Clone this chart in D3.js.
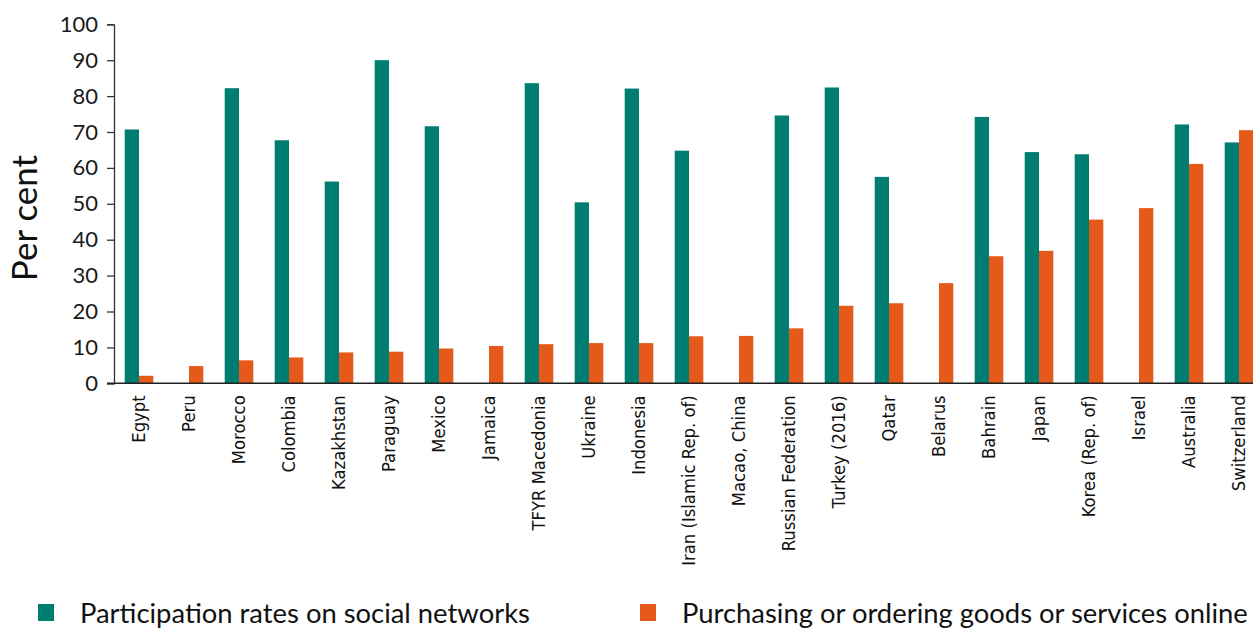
<!DOCTYPE html>
<html>
<head>
<meta charset="utf-8">
<script src="https://cdn.jsdelivr.net/npm/d3@7"></script>
<style>
  body { margin: 0; background: #fff; }
  svg { display: block; }
</style>
</head>
<body>
<div id="chart"></div>
<script>
var countries = ["Egypt", "Peru", "Morocco", "Colombia", "Kazakhstan", "Paraguay", "Mexico",
  "Jamaica", "TFYR Macedonia", "Ukraine", "Indonesia", "Iran (Islamic Rep. of)", "Macao, China",
  "Russian Federation", "Turkey (2016)", "Qatar", "Belarus", "Bahrain", "Japan", "Korea (Rep. of)",
  "Israel", "Australia", "Switzerland"];

// null = no data
var socialNetworks = [70.7, null, 82.2, 67.7, 56.2, 90.0, 71.6, null, 83.6, 50.4, 82.1, 64.8, null,
  74.6, 82.4, 57.5, null, 74.2, 64.4, 63.8, null, 72.1, 67.1];
var purchasing = [2.1, 4.8, 6.4, 7.2, 8.6, 8.8, 9.7, 10.4, 10.9, 11.2, 11.2, 13.1, 13.2,
  15.3, 21.6, 22.3, 27.9, 35.4, 36.9, 45.6, 48.8, 61.1, 70.5];

var seriesNames = ["Participation rates on social networks", "Purchasing or ordering goods or services online"];
var seriesColors = ["#007d71", "#e55a1a"];
var yTicks = [0, 10, 20, 30, 40, 50, 60, 70, 80, 90, 100];

var W = 1253, H = 628;
var mLeft = 114, mTop = 24.3, mBottom = 383.3;

var svg = d3.select("#chart").append("svg")
  .attr("width", W).attr("height", H);

var x = d3.scaleBand().domain(countries).range([mLeft, mLeft + 50 * countries.length])
  .paddingInner(0.428).paddingOuter(0.214);
var xs = d3.scaleBand().domain([0, 1]).range([0, x.bandwidth()]);
var y = d3.scaleLinear().domain([0, 100]).range([mBottom, mTop]);

// bars
var groups = svg.append("g").selectAll("g.country")
  .data(countries).enter().append("g")
  .attr("class", "country")
  .attr("transform", function(d){ return "translate(" + x(d) + ",0)"; });

groups.each(function(c, i){
  var g = d3.select(this);
  [socialNetworks[i], purchasing[i]].forEach(function(v, s){
    if (v === null) return;
    g.append("rect")
      .attr("x", xs(s))
      .attr("width", xs.bandwidth())
      .attr("y", y(v))
      .attr("height", y(0) - y(v))
      .style("fill", seriesColors[s]);
  });
});

// y axis
var yAxis = d3.axisLeft(y).tickValues(yTicks).tickSize(7).tickPadding(9);
var gy = svg.append("g").attr("transform", "translate(" + mLeft + ",0)").call(yAxis);
gy.select(".domain").attr("stroke", "#333").attr("stroke-width", 1.3);
gy.selectAll(".tick line").attr("stroke", "#333").attr("stroke-width", 1.3);
gy.selectAll(".tick text")
  .style("font-family", "Lato, sans-serif")
  .style("font-size", "22px")
  .attr("fill", "#1a1a1a");

// x axis line
svg.append("line")
  .attr("x1", mLeft - 7).attr("x2", W)
  .attr("y1", mBottom).attr("y2", mBottom)
  .attr("stroke", "#222").attr("stroke-width", 1.5);

// x labels
svg.append("g").selectAll("text")
  .data(countries).enter().append("text")
  .attr("transform", function(d){
    return "translate(" + (x(d) + x.bandwidth() / 2) + "," + (mBottom + 12) + ") rotate(-90)";
  })
  .attr("dy", "0.35em")
  .style("text-anchor", "end")
  .style("font-family", "'Liberation Sans Narrow', 'DejaVu Sans Condensed', sans-serif")
  .style("font-stretch", "condensed")
  .style("font-size", "18.3px")
  .attr("fill", "#111")
  .text(function(d){ return d; });

// y title
svg.append("text")
  .attr("transform", "translate(37,218) rotate(-90)")
  .style("text-anchor", "middle")
  .style("font-family", "Lato, sans-serif")
  .style("font-size", "35px")
  .attr("fill", "#111")
  .text("Per cent");

// legend
var legendX = [38, 640];
var legend = svg.append("g").selectAll("g")
  .data(seriesNames).enter().append("g")
  .attr("transform", function(d, i){ return "translate(" + legendX[i] + ",604)"; });
legend.append("rect")
  .attr("width", 16).attr("height", 17)
  .style("fill", function(d, i){ return seriesColors[i]; });
legend.append("text")
  .attr("x", 42).attr("y", 19)
  .style("font-family", "Lato, sans-serif")
  .style("font-size", "27.4px")
  .attr("fill", "#111")
  .text(function(d){ return d; });
</script>
</body>
</html>
